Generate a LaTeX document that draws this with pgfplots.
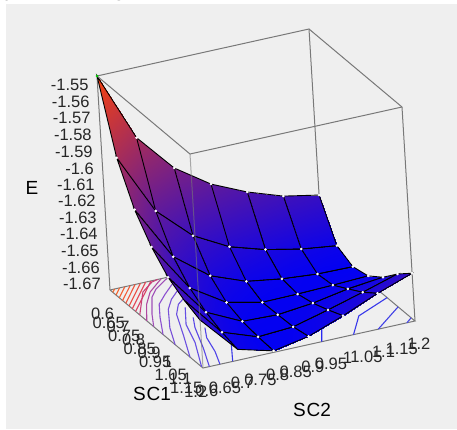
\documentclass[border=0pt]{standalone}
\usepackage{fontspec}
\setmainfont{Liberation Sans}
\usepackage{pgfplots}
\pgfplotsset{compat=1.18}
\definecolor{panel}{HTML}{EFEFEF}
\definecolor{boxg}{HTML}{787878}
\pgfplotsset{ct/.style n args={3}{no marks,line width=1.1pt,color={rgb,255:red,#1;green,#2;blue,#3},forget plot}}
\begin{document}
\begin{tikzpicture}
\useasboundingbox (0,0) rectangle (457pt,429pt);
\fill[panel] (6pt,0) rectangle (457pt,425pt);
\node[anchor=base,inner sep=0] at (11pt,433.5pt) {\fontsize{25}{25}\selectfont y};
\node[anchor=base,inner sep=0] at (119pt,433.5pt) {\fontsize{25}{25}\selectfont g};
\begin{axis}[
  at={(97pt,61pt)},anchor=south west,
  x={(155pt,-130pt)},y={(353.33pt,78.33pt)},z={(-100.8pt,1658.9pt)},
  xmin=0.6,xmax=1.2,ymin=0.6,ymax=1.2,zmin=-1.672,zmax=-1.543,
  clip=false,
  axis line style={draw=none},tick style={draw=none},
  xtick={0.6,0.65,0.7,0.75,0.8,0.85,0.9,0.95,1,1.05,1.1,1.15,1.2},
  ytick={0.6,0.65,0.7,0.75,0.8,0.85,0.9,0.95,1,1.05,1.1,1.15,1.2},
  ztick={-1.67,-1.66,-1.65,-1.64,-1.63,-1.62,-1.61,-1.6,-1.59,-1.58,-1.57,-1.56,-1.55},
  xticklabels={0.6,0.65,0.7,0.75,0.8,0.85,0.9,0.95,1,1.05,1.1,1.15,1.2},
  yticklabels={0.6,0.65,0.7,0.75,0.8,0.85,0.9,0.95,1,1.05,1.1,1.15,1.2},
  zticklabels={-1.67,-1.66,-1.65,-1.64,-1.63,-1.62,-1.61,-1.6,-1.59,-1.58,-1.57,-1.56,-1.55},
  tick label style={font=\fontsize{16.5}{16.5}\selectfont,text=black!85,inner sep=0pt},
  xticklabel style={yshift=-14pt},
  yticklabel style={yshift=-15pt},
  zticklabel style={xshift=-9pt,yshift=-2pt},
  xticklabel pos=lower,yticklabel pos=lower,zticklabel pos=left,
  colormap={rb}{rgb255=(0,0,245) rgb255=(245,66,16)},
  point meta min=-1.672,point meta max=-1.543,
]
% back box edges
\addplot3[no marks,boxg,line width=1pt,forget plot] coordinates {(0.6,0.6,-1.543)(0.6,1.2,-1.543)(1.2,1.2,-1.543)};
\addplot3[no marks,boxg,line width=1pt,forget plot] coordinates {(0.6,1.2,-1.543)(0.6,1.2,-1.672)};
\addplot3[no marks,boxg,line width=1pt,forget plot] coordinates {(0.6,0.6,-1.543)(0.6,0.6,-1.672)};
\addplot3[no marks,boxg,line width=1pt,forget plot] coordinates {(1.2,1.2,-1.543)(1.2,1.2,-1.672)};
\addplot3[no marks,boxg,line width=1pt,forget plot] coordinates {(0.6,0.6,-1.672)(1.2,0.6,-1.672)(1.2,1.2,-1.672)(0.6,1.2,-1.672)(0.6,0.6,-1.672)};
% floor contours
\addplot3[ct={245}{100}{40}] coordinates {(0.618,0.6,-1.672)(0.6,0.613,-1.672)};
\addplot3[ct={245}{100}{45}] coordinates {(0.639,0.6,-1.672)(0.6,0.627,-1.672)};
\addplot3[ct={245}{95}{50}] coordinates {(0.66,0.6,-1.672)(0.6,0.642,-1.672)};
\addplot3[ct={243}{90}{55}] coordinates {(0.681,0.6,-1.672)(0.6,0.657,-1.672)};
\addplot3[ct={240}{85}{60}] coordinates {(0.702,0.6,-1.672)(0.6,0.671,-1.672)};
\addplot3[ct={235}{80}{70}] coordinates {(0.723,0.6,-1.672)(0.6,0.686,-1.672)};
\addplot3[ct={228}{70}{85}] coordinates {(0.744,0.6,-1.672)(0.6,0.701,-1.672)};
\addplot3[ct={220}{65}{100}] coordinates {(0.765,0.6,-1.672)(0.6,0.716,-1.672)};
\addplot3[ct={200}{64}{122}] coordinates {(0.792,0.6,-1.672)(0.657,0.668,-1.672)(0.608,0.715,-1.672)(0.6,0.735,-1.672)};
\addplot3[ct={176}{72}{160}] coordinates {(0.837,0.6,-1.672)(0.736,0.644,-1.672)(0.667,0.684,-1.672)(0.627,0.72,-1.672)(0.6,0.745,-1.672)};
\addplot3[ct={160}{80}{184}] coordinates {(0.882,0.6,-1.672)(0.805,0.629,-1.672)(0.70,0.675,-1.672)(0.657,0.705,-1.672)(0.623,0.74,-1.672)(0.6,0.765,-1.672)};
\addplot3[ct={140}{80}{208}] coordinates {(0.942,0.6,-1.672)(0.834,0.639,-1.672)(0.753,0.672,-1.672)(0.70,0.712,-1.672)(0.648,0.755,-1.672)};
\addplot3[ct={120}{80}{216}] coordinates {(1.02,0.6,-1.672)(0.911,0.633,-1.672)(0.796,0.679,-1.672)(0.739,0.713,-1.672)(0.677,0.764,-1.672)};
\addplot3[ct={108}{80}{224}] coordinates {(1.116,0.6,-1.672)(0.97,0.645,-1.672)(0.838,0.684,-1.672)(0.779,0.715,-1.672)(0.715,0.776,-1.672)};
\addplot3[ct={100}{78}{228}] coordinates {(1.191,0.6,-1.672)(1.035,0.65,-1.672)(0.913,0.678,-1.672)(0.807,0.722,-1.672)};
\addplot3[ct={90}{72}{230}] coordinates {(1.2,0.618,-1.672)(1.079,0.654,-1.672)(0.943,0.69,-1.672)(0.879,0.713,-1.672)};
\addplot3[ct={80}{68}{232}] coordinates {(1.2,0.648,-1.672)(1.116,0.671,-1.672)(1.021,0.689,-1.672)(0.957,0.712,-1.672)};
\addplot3[ct={56}{56}{232}] coordinates {(1.2,0.684,-1.672)(1.108,0.721,-1.672)(1.02,0.756,-1.672)};
\addplot3[ct={40}{40}{240}] coordinates {(1.2,0.936,-1.672)(1.116,0.973,-1.672)(1.02,1.02,-1.672)};
\addplot3[ct={55}{55}{235}] coordinates {(1.2,1.026,-1.672)(1.093,1.088,-1.672)(1.02,1.2,-1.672)};
\addplot3[ct={65}{65}{230}] coordinates {(1.2,1.096,-1.672)(1.091,1.2,-1.672)};
\addplot3[ct={70}{70}{230}] coordinates {(1.2,1.177,-1.672)(1.175,1.2,-1.672)};
% surface
\addplot3[surf,shader=faceted interp,faceted color=black,line width=0.9pt,z buffer=sort,mesh/rows=7,mesh/cols=7,forget plot] coordinates {
(0.6,0.6,-1.543)(0.6,0.7,-1.5849)(0.6,0.8,-1.6079)(0.6,0.9,-1.6223)(0.6,1.0,-1.6318)(0.6,1.1,-1.6390)(0.6,1.2,-1.6431)

(0.7,0.6,-1.5845)(0.7,0.7,-1.6213)(0.7,0.8,-1.6409)(0.7,0.9,-1.6523)(0.7,1.0,-1.6587)(0.7,1.1,-1.6631)(0.7,1.2,-1.6658)

(0.8,0.6,-1.6079)(0.8,0.7,-1.6410)(0.8,0.8,-1.6572)(0.8,0.9,-1.6653)(0.8,1.0,-1.6685)(0.8,1.1,-1.6703)(0.8,1.2,-1.6706)

(0.9,0.6,-1.6226)(0.9,0.7,-1.6520)(0.9,0.8,-1.6654)(0.9,0.9,-1.6701)(0.9,1.0,-1.6698)(0.9,1.1,-1.6692)(0.9,1.2,-1.6683)

(1.0,0.6,-1.6330)(1.0,0.7,-1.6588)(1.0,0.8,-1.6690)(1.0,0.9,-1.6697)(1.0,1.0,-1.6675)(1.0,1.1,-1.6636)(1.0,1.2,-1.6613)

(1.1,0.6,-1.6390)(1.1,0.7,-1.6630)(1.1,0.8,-1.6705)(1.1,0.9,-1.6692)(1.1,1.0,-1.6637)(1.1,1.1,-1.6578)(1.1,1.2,-1.6515)

(1.2,0.6,-1.6431)(1.2,0.7,-1.6655)(1.2,0.8,-1.6711)(1.2,0.9,-1.6671)(1.2,1.0,-1.6594)(1.2,1.1,-1.6506)(1.2,1.2,-1.6432)
};
% node marks
\addplot3[only marks,mark=*,mark size=1.1pt,white,mark options={draw=white,fill=white},forget plot] coordinates {
(0.6,0.7,-1.5849)(0.6,0.8,-1.6079)(0.6,0.9,-1.6223)(0.6,1.0,-1.6318)(0.6,1.1,-1.6390)(0.6,1.2,-1.6431)
(0.7,0.6,-1.5845)(0.7,0.7,-1.6213)(0.7,0.8,-1.6409)(0.7,0.9,-1.6523)(0.7,1.0,-1.6587)(0.7,1.1,-1.6631)(0.7,1.2,-1.6658)
(0.8,0.6,-1.6079)(0.8,0.7,-1.6410)(0.8,0.8,-1.6572)(0.8,0.9,-1.6653)(0.8,1.0,-1.6685)(0.8,1.1,-1.6703)(0.8,1.2,-1.6706)
(0.9,0.6,-1.6226)(0.9,0.7,-1.6520)(0.9,0.8,-1.6654)(0.9,0.9,-1.6701)(0.9,1.0,-1.6698)(0.9,1.1,-1.6692)(0.9,1.2,-1.6683)
(1.0,0.6,-1.6330)(1.0,0.7,-1.6588)(1.0,0.8,-1.6690)(1.0,0.9,-1.6697)(1.0,1.0,-1.6675)(1.0,1.1,-1.6636)(1.0,1.2,-1.6613)
(1.1,0.7,-1.6630)(1.1,0.8,-1.6705)(1.1,0.9,-1.6692)(1.1,1.0,-1.6637)(1.1,1.1,-1.6578)(1.1,1.2,-1.6515)
(1.2,0.8,-1.6711)(1.2,0.9,-1.6671)(1.2,1.0,-1.6594)(1.2,1.1,-1.6506)(1.2,1.2,-1.6432)
};
\addplot3[only marks,mark=*,mark size=1.2pt,green!80!black,mark options={draw=none},forget plot] coordinates {(0.6,0.6,-1.543)};
% front box edges
\addplot3[no marks,boxg,line width=1pt,forget plot] coordinates {(0.6,0.6,-1.543)(1.2,0.6,-1.543)(1.2,1.2,-1.543)};
\addplot3[no marks,boxg,opacity=0.6,line width=1pt,forget plot] coordinates {(1.2,0.6,-1.543)(1.2,0.6,-1.672)};
\end{axis}
\node[font=\fontsize{19}{19}\selectfont] at (32pt,241pt) {E};
\node[font=\fontsize{19}{19}\selectfont] at (152pt,35pt) {S\kern1pt C1};
\node[font=\fontsize{19}{19}\selectfont] at (312pt,19pt) {S\kern1pt C2};
\end{tikzpicture}
\end{document}
